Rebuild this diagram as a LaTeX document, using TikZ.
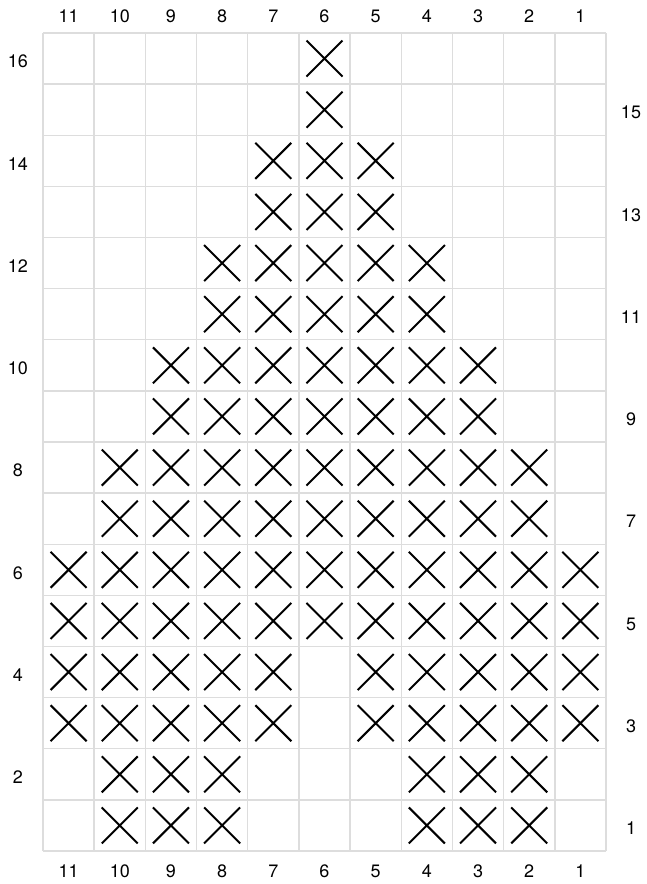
\documentclass[tikz,border=0pt]{standalone}
\usepackage{fontspec}
\setmainfont{TeX Gyre Heros}
\definecolor{gridgray}{HTML}{DDDDDD}
\begin{document}
\begin{tikzpicture}[x=1pt,y=-1pt,
  gridline/.style={draw=gridgray,line width=1.4pt},
  xmark/.style={draw=black,line width=2pt},
  lbl/.style={font=\fontsize{18}{20}\selectfont,inner sep=0pt,anchor=center}]
\useasboundingbox (0,0) rectangle (646,884);
\def\cw{51.18}
\def\rh{51.125}
% grid
\foreach \i in {0,...,11}{
  \draw[gridline] ({43+\i*\cw},33) -- ({43+\i*\cw},851);
}
\foreach \j in {0,...,16}{
  \draw[gridline] (43,{33+\j*\rh}) -- (606,{33+\j*\rh});
}
% column labels
\foreach \c in {1,...,11}{
  \pgfmathsetmacro{\xc}{43+(11-\c+0.5)*\cw}
  \node[lbl] (top\c) at (\xc,16.5) {\c};
  \node[lbl] (bot\c) at (\xc,871) {\c};
}
% row labels
\foreach \r in {2,4,...,16}{
  \pgfmathsetmacro{\yc}{33+(16-\r+0.5)*\rh+3}
  \node[lbl] (left\r) at (18,\yc) {\r};
}
\foreach \r in {1,3,...,15}{
  \pgfmathsetmacro{\yc}{33+(16-\r+0.5)*\rh+3}
  \node[lbl] (right\r) at (631,\yc) {\r};
}
% crosses
\foreach \r/\cs in {16/{6},15/{6},14/{7,6,5},13/{7,6,5},
  12/{8,7,6,5,4},11/{8,7,6,5,4},10/{9,8,7,6,5,4,3},9/{9,8,7,6,5,4,3},
  8/{10,9,8,7,6,5,4,3,2},7/{10,9,8,7,6,5,4,3,2},
  6/{11,10,9,8,7,6,5,4,3,2,1},5/{11,10,9,8,7,6,5,4,3,2,1},
  4/{11,10,9,8,7,5,4,3,2,1},3/{11,10,9,8,7,5,4,3,2,1},
  2/{10,9,8,4,3,2},1/{10,9,8,4,3,2}}{
  \foreach \c in \cs {
    \pgfmathsetmacro{\xc}{43+(11-\c+0.5)*\cw}
    \pgfmathsetmacro{\yc}{33+(16-\r+0.5)*\rh}
    \draw[xmark] ({\xc-18},{\yc-18}) -- ({\xc+18},{\yc+18})
                 ({\xc-18},{\yc+18}) -- ({\xc+18},{\yc-18});
  }
}
\end{tikzpicture}
\end{document}
